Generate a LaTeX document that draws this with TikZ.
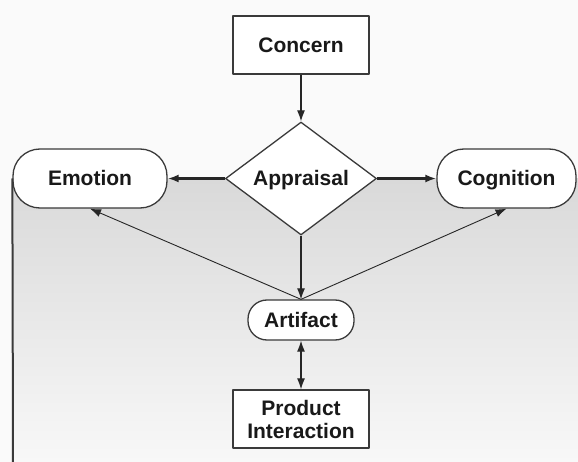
\documentclass[tikz,border=0pt]{standalone}
\usepackage{fontspec}
\setmainfont{Liberation Sans}
\usetikzlibrary{shapes.geometric,arrows.meta}

\definecolor{edgegray}{HTML}{3A3A3A}
\definecolor{panelgray}{HTML}{D9D9D9}
\definecolor{panellight}{HTML}{F8F8F8}
\definecolor{pagegray}{HTML}{FAFAFA}

\begin{document}
\begin{tikzpicture}[
  x=1pt,
  y=-1pt,
  line join=round,
  every node/.style={
    font=\bfseries\fontsize{21}{23}\selectfont,
    text=black!90,
    draw=edgegray,
    line width=1.3pt,
    fill=white,
    inner sep=0pt,
    text height=17pt,
    text depth=2pt
  },
  box/.style={
    rectangle,
    minimum width=136pt,
    minimum height=58pt,
    align=center
  },
  twoline/.style={
    box,
    text height=,
    text depth=
  },
  pill/.style={
    rectangle,
    rounded corners=27pt,
    minimum height=59pt
  },
  choice/.style={
    diamond,
    aspect=1.34,
    minimum width=151pt,
    minimum height=113pt
  },
  link/.style={
    draw=black!85,
    line width=1.2pt,
    -{Latex[length=11pt,width=8pt]}
  },
  heavy/.style={
    link,
    line width=2.2pt
  },
  thin/.style={
    link,
    line width=0.9pt
  }
]
  \useasboundingbox (0,0) rectangle (578,462);

  % Fond de page
  \fill[pagegray] (0,0) rectangle (578,462);

  % Panneau degrade sous la ligne centrale
  \shade[top color=panelgray, bottom color=panellight]
    (13,178.5) rectangle (578,462);

  % Noeuds
  \node[box]  (concern)   at (301,45)    {Concern};
  \node[choice] (appraisal) at (301,178.5) {Appraisal};
  \node[pill, minimum width=154pt] (emotion)   at (90,178.5)  {Emotion};
  \node[pill, minimum width=139pt] (cognition) at (506.5,178.5) {Cognition};
  \node[pill, rounded corners=19pt, minimum width=106pt, minimum height=40pt]
    (artifact) at (301,320) {Artifact};
  \node[twoline] (product) at (301,419) {Product\\Interaction};

  % Bord gauche du panneau
  \coordinate (panelbottom) at (13,462);
  \draw[edgegray, line width=2pt] (emotion.west) -- (panelbottom);

  % Fleches
  \draw[link]  (concern)   -- (appraisal);
  \draw[heavy] (appraisal) -- (emotion);
  \draw[heavy] (appraisal) -- (cognition);
  \draw[link]  (appraisal) -- (artifact);
  \draw[thin]  (artifact.north) -- (emotion.south);
  \draw[thin]  (artifact.north) -- (cognition.south);
  \draw[link, {Latex[length=11pt,width=8pt]}-{Latex[length=11pt,width=8pt]}]
    (artifact) -- (product);
\end{tikzpicture}
\end{document}
